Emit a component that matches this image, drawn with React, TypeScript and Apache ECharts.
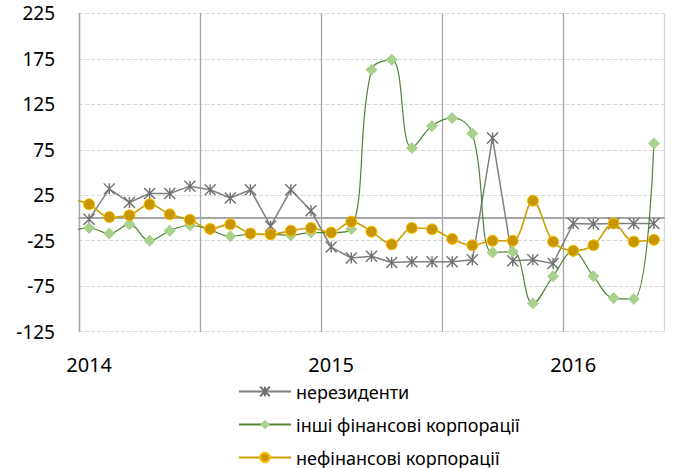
import React, { useEffect, useRef } from "react";
import * as echarts from "echarts";

const months = [
  "2014-01", "2014-02", "2014-03", "2014-04", "2014-05", "2014-06",
  "2014-07", "2014-08", "2014-09", "2014-10", "2014-11", "2014-12",
  "2015-01", "2015-02", "2015-03", "2015-04", "2015-05", "2015-06",
  "2015-07", "2015-08", "2015-09", "2015-10", "2015-11", "2015-12",
  "2016-01", "2016-02", "2016-03", "2016-04", "2016-05",
];

const seriesNames = ["нерезиденти", "інші фінансові корпорації", "нефінансові корпорації"];

const nonResidents = [
  -1.5, 32, 17, 27, 27, 35, 31, 22, 31, -9, 31, 8,
  -32, -44, -42, -49, -48, -48, -48, -46, 88, -47, -46, -50,
  -6, -6.5, -6, -6, -6,
];

// value for Dec 2013 (partly visible at the left edge) followed by Jan 2014 .. May 2016
const otherFinancialPrev = -15;
const otherFinancial = [
  -11, -17, -7, -25, -14, -8, -13, -20, -18, -18, -19, -16,
  -16, -12, 163, 174, 77, 101, 110, 93, -38, -37, -94, -64,
  -37, -64, -88, -89, 82,
];

const nonFinancialPrev = 22;
const nonFinancial = [
  15, 1, 3, 15, 4, -2, -12, -7, -17, -18, -14, -11,
  -16, -4, -15, -29, -11, -12.5, -23, -30, -25, -25, 19, -26,
  -36, -30, -6, -26, -24,
];

const yMin = -125;
const yMax = 225;
const yStep = 50;

const FONT = "Noto Sans";

function toPoints(values: number[], prev?: number) {
  const pts: number[][] = [];
  if (prev !== undefined) pts.push([-0.5, prev]);
  values.forEach((v, i) => pts.push([i + 0.5, v]));
  return pts;
}

export default function App() {
  const ref = useRef<HTMLDivElement>(null);

  useEffect(() => {
    document.body.style.margin = "0";
    if (!ref.current) return;
    const chart = echarts.init(ref.current, null, { renderer: "svg" });

    const starPath = "path://M0,0L10,10M10,0L0,10M5,0L5,10";

    chart.setOption({
      animation: false,
      grid: { left: 79, right: 9, top: 13.3, bottom: 136.3, containLabel: false },
      legend: {
        orient: "vertical",
        left: 238,
        top: 382,
        padding: 0,
        height: 86,
        itemWidth: 52,
        itemHeight: 12,
        itemGap: 14,
        data: seriesNames,
        textStyle: { fontFamily: FONT, fontSize: 18, color: "#000", lineHeight: 19 },
      },
      xAxis: [
        {
          type: "category",
          data: months,
          boundaryGap: true,
          position: "bottom",
          axisLine: { show: false, onZero: false },
          axisTick: { show: false },
          splitLine: { show: false },
          axisLabel: {
            interval: 0,
            margin: 23,
            fontFamily: FONT,
            fontSize: 20,
            color: "#000",
            formatter: (v: string) => (v.endsWith("-01") ? v.slice(0, 4) : ""),
          },
        },
        {
          type: "value",
          min: 0,
          max: months.length,
          interval: 6,
          position: "bottom",
          axisLine: { show: true, onZero: true, lineStyle: { color: "#a6a6a6", width: 2 } },
          axisTick: { show: false },
          axisLabel: { show: false },
          splitLine: {
            show: true,
            lineStyle: {
              color: ["#a6a6a6", "#a6a6a6", "#a6a6a6", "#a6a6a6", "#a6a6a6", "#d9d9d9"],
              width: 1.3,
            },
          },
        },
      ],
      yAxis: {
        type: "value",
        min: yMin,
        max: yMax,
        interval: yStep,
        axisLine: { show: true, lineStyle: { color: "#a6a6a6", width: 1.3 } },
        axisTick: { show: false },
        axisLabel: { margin: 24, fontFamily: FONT, fontSize: 19, color: "#000" },
        splitLine: { show: true, lineStyle: { color: "#d9d9d9", type: "dashed", width: 1 } },
      },
      series: [
        {
          name: seriesNames[0],
          type: "line",
          xAxisIndex: 1,
          data: toPoints(nonResidents),
          symbol: starPath,
          symbolSize: 11,
          itemStyle: { color: "#6f6f6f", borderColor: "#6f6f6f", borderWidth: 1.4 },
          lineStyle: { color: "#7f7f7f", width: 1.5 },
          z: 3,
        },
        {
          name: seriesNames[1],
          type: "line",
          xAxisIndex: 1,
          data: toPoints(otherFinancial, otherFinancialPrev),
          smooth: 0.4,
          symbol: "diamond",
          symbolSize: 12,
          itemStyle: { color: "#a9d18e" },
          lineStyle: { color: "#548235", width: 1.2 },
          z: 4,
        },
        {
          name: seriesNames[2],
          type: "line",
          xAxisIndex: 1,
          data: toPoints(nonFinancial, nonFinancialPrev),
          smooth: 0.35,
          symbol: "circle",
          symbolSize: 11,
          itemStyle: { color: "#c79600", borderColor: "#ffc000", borderWidth: 1 },
          lineStyle: { color: "#c9a000", width: 1.6 },
          z: 5,
        },
      ],
    });

    return () => {
      chart.dispose();
    };
  }, []);

  return <div ref={ref} style={{ width: 673, height: 468 }} />;
}
